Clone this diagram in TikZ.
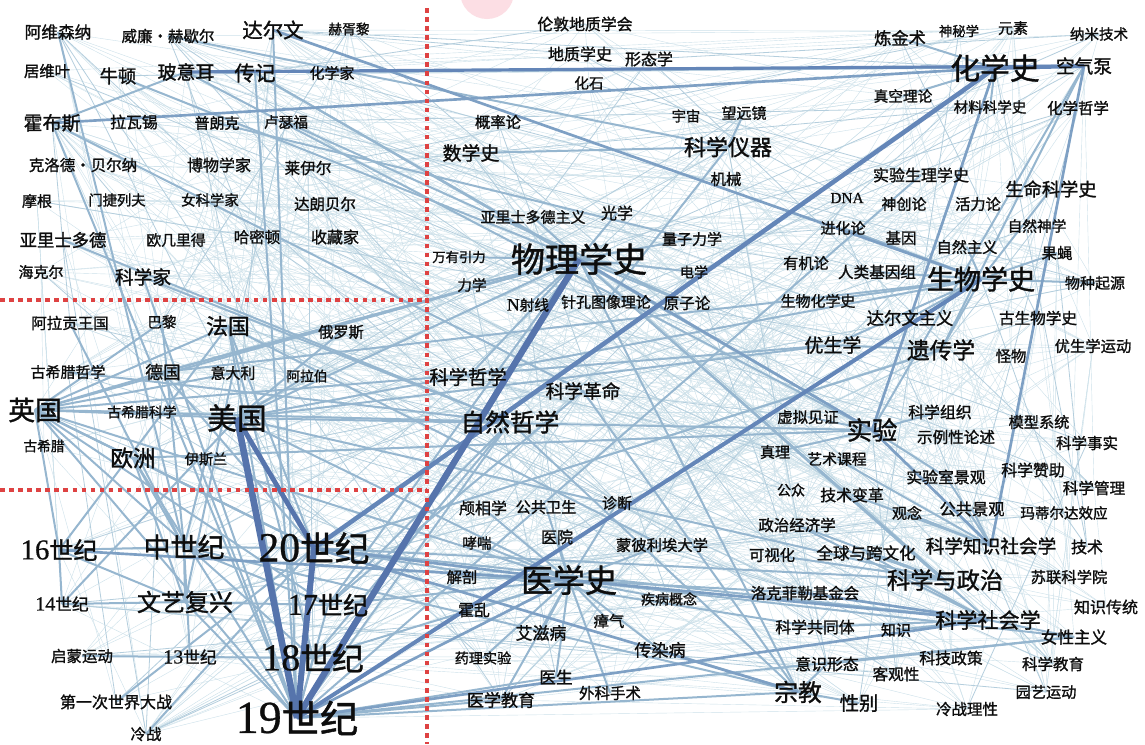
\documentclass[tikz,border=0pt]{standalone}
\usepackage{fontspec}
\newfontfamily\cjk{Noto Sans CJK SC}[FakeBold=1.3]
\newfontfamily\lat{Liberation Serif}[Scale=1.2,FakeBold=0.6]
\usetikzlibrary{backgrounds}
\definecolor{cfaint}{RGB}{205,225,234}
\definecolor{clight}{RGB}{180,206,221}
\definecolor{cmed}{RGB}{150,182,207}
\definecolor{cmw}{RGB}{126,160,196}
\definecolor{cthick}{RGB}{100,134,184}
\definecolor{cvthick}{RGB}{86,116,172}
\definecolor{cred}{RGB}{222,66,66}
\definecolor{cpink}{RGB}{252,222,228}
\newcounter{nd}
\newcommand\dg[1]{{\lat #1}}
\newcommand\Nd[5]{\stepcounter{nd}%
  \node[lbl,font=\cjk\fontsize{#4}{#4}\selectfont] (#1) at (#2,#3) {#5};%
  \edef\ndname{v\arabic{nd}}\coordinate (\ndname) at (#1.center);}
\begin{document}
\begin{tikzpicture}[x=0.75pt,y=-0.75pt,
 lbl/.style={inner sep=0pt,outer sep=0pt,text=black!95,anchor=center},
 faint/.style={draw=cfaint,line width=0.3pt},
 light/.style={draw=clight,line width=0.6pt},
 med/.style={draw=cmed,line width=1.5pt},
 medw/.style={draw=cmw,line width=2pt},
 thk/.style={draw=cthick,line width=3pt},
 vthk/.style={draw=cvthick,line width=4.5pt},
 reddot/.style={draw=cred,line width=2.4pt,dash pattern=on 3.4pt off 3.4pt}]
\useasboundingbox (0,0) rectangle (1145,744);
% ---- top left
\Nd{avicenna}{58}{32}{12.5}{阿维森纳}
\Nd{herschel}{168}{36}{11.6}{威廉・赫歇尔}
\Nd{darwin}{273}{30}{15.3}{达尔文}
\Nd{huxley}{349}{29}{10.3}{赫胥黎}
\Nd{cuvier}{47}{71}{11.5}{居维叶}
\Nd{newton}{118}{76}{13.7}{牛顿}
\Nd{boyle}{186}{72}{14.2}{玻意耳}
\Nd{bio}{255}{73}{15.4}{传记}
\Nd{chemist}{332}{73}{11.25}{化学家}
\Nd{hobbes}{52}{123}{14.2}{霍布斯}
\Nd{lavoisier}{134}{122}{11.9}{拉瓦锡}
\Nd{planck}{217}{123}{11.25}{普朗克}
\Nd{rutherford}{286}{122}{11}{卢瑟福}
\Nd{bernard}{83}{165}{11.6}{克洛德・贝尔纳}
\Nd{naturalist}{219}{165}{12}{博物学家}
\Nd{lyell}{308}{168}{11.7}{莱伊尔}
\Nd{morgan}{37}{201}{11.25}{摩根}
\Nd{mendeleev}{117}{200}{10.7}{门捷列夫}
\Nd{womensci}{210}{200}{10.8}{女科学家}
\Nd{dalembert}{325}{204}{11.6}{达朗贝尔}
\Nd{aristotle}{63}{240}{13}{亚里士多德}
\Nd{euclid}{176}{240}{11.1}{欧几里得}
\Nd{hamilton}{257}{237}{11.6}{哈密顿}
\Nd{collector}{335}{237}{12}{收藏家}
\Nd{haeckel}{41}{272}{11.25}{海克尔}
\Nd{scientist}{143}{277}{14}{科学家}
% ---- top middle
\Nd{geosoc}{585}{24}{11.9}{伦敦地质学会}
\Nd{geohist}{580}{54}{12}{地质学史}
\Nd{morph}{649}{59}{12}{形态学}
\Nd{fossil}{589}{83}{11}{化石}
\Nd{prob}{498}{122}{11.5}{概率论}
\Nd{cosmos}{686}{116}{10.7}{宇宙}
\Nd{telescope}{744}{113}{11.25}{望远镜}
\Nd{mathhist}{471}{153}{14.2}{数学史}
\Nd{instr}{728}{147}{16.5}{科学仪器}
\Nd{machine}{726}{179}{11.5}{机械}
\Nd{aristism}{533}{217}{11.25}{亚里士多德主义}
\Nd{optics}{617}{213}{12}{光学}
\Nd{quantum}{692}{239}{11.25}{量子力学}
\Nd{gravity}{459}{257}{10}{万有引力}
\Nd{physhist}{579}{259}{25.5}{物理学史}
\Nd{elec}{694}{272}{10.6}{电学}
\Nd{mech}{472}{285}{11}{力学}
\Nd{nray}{528}{305}{11}{\dg{N}射线}
\Nd{pinhole}{606}{302}{11.2}{针孔图像理论}
\Nd{atom}{687}{303}{11.7}{原子论}
\Nd{philsci}{468}{377}{14.5}{科学哲学}
\Nd{scirev}{583}{391}{14}{科学革命}
\Nd{natphil}{510}{422}{18.5}{自然哲学}
\Nd{truth}{775}{452}{11.25}{真理}
\Nd{virtual}{808}{417}{11.5}{虚拟见证}
% ---- top right
\Nd{alchemy}{900}{38}{12.9}{炼金术}
\Nd{occult}{959}{31}{10}{神秘学}
\Nd{element}{1013}{28}{11.25}{元素}
\Nd{nano}{1099}{34}{10.9}{纳米技术}
\Nd{chemhist}{995}{68}{22.3}{化学史}
\Nd{airpump}{1084}{66}{14}{空气泵}
\Nd{vacuum}{903}{96}{11}{真空理论}
\Nd{matsci}{990}{107}{10.9}{材料科学史}
\Nd{chemphil}{1078}{108}{11.6}{化学哲学}
\Nd{expphys}{921}{175}{12}{实验生理学史}
\Nd{dna}{847}{198}{9.6}{\dg{DNA}}
\Nd{creation}{904}{204}{11.25}{神创论}
\Nd{vital}{978}{204}{11.4}{活力论}
\Nd{lifesci}{1051}{189}{13.7}{生命科学史}
\Nd{evol}{843}{228}{11.25}{进化论}
\Nd{gene}{901}{238}{11.6}{基因}
\Nd{naturalism}{967}{247}{11.4}{自然主义}
\Nd{nattheo}{1037}{226}{11}{自然神学}
\Nd{fly}{1057}{253}{11.6}{果蝇}
\Nd{organic}{806}{263}{11.4}{有机论}
\Nd{genome}{877}{272}{11.7}{人类基因组}
\Nd{biohist}{981}{279}{20.3}{生物学史}
\Nd{origin}{1095}{283}{11.25}{物种起源}
\Nd{biochem}{818}{301}{11.2}{生物化学史}
\Nd{darwinism}{910}{318}{13}{达尔文主义}
\Nd{paleo}{1038}{318}{11.7}{古生物学史}
\Nd{eugenics}{833}{345}{14.2}{优生学}
\Nd{genetics}{941}{350}{17}{遗传学}
\Nd{monster}{1011}{356}{11.5}{怪物}
\Nd{eugmove}{1093}{346}{11.5}{优生学运动}
\Nd{sciorg}{940}{412}{11.9}{科学组织}
\Nd{model}{1039}{422}{11.4}{模型系统}
\Nd{exper}{872}{430}{19}{实验}
\Nd{exemplary}{956}{437}{11.7}{示例性论述}
\Nd{scifact}{1087}{443}{11.6}{科学事实}
\Nd{artcourse}{837}{459}{11.1}{艺术课程}
\Nd{lablandscape}{946}{477}{11.9}{实验室景观}
\Nd{patron}{1033}{470}{11.9}{科学赞助}
\Nd{scimgmt}{1094}{488}{11.7}{科学管理}
% ---- lower right
\Nd{public}{791}{490}{10.5}{公众}
\Nd{techchange}{852}{495}{11.9}{技术变革}
\Nd{idea}{907}{513}{11.25}{观念}
\Nd{publand}{972}{509}{12.2}{公共景观}
\Nd{matilda}{1064}{513}{10.9}{玛蒂尔达效应}
\Nd{polecon}{797}{525}{11.6}{政治经济学}
\Nd{ssk}{991}{546}{14}{科学知识社会学}
\Nd{tech}{1087}{547}{12}{技术}
\Nd{visual}{772}{555}{11.5}{可视化}
\Nd{global}{866}{553}{12.4}{全球与跨文化}
\Nd{scipol}{945}{580}{17.4}{科学与政治}
\Nd{ussr}{1069}{577}{11.5}{苏联科学院}
\Nd{rockefeller}{805}{593}{11.6}{洛克菲勒基金会}
\Nd{knowtrad}{1106}{607}{12}{知识传统}
\Nd{socsci}{988}{620}{15.8}{科学社会学}
\Nd{community}{815}{627}{11.9}{科学共同体}
\Nd{knowledge}{896}{630}{11.25}{知识}
\Nd{feminism}{1074}{637}{12.4}{女性主义}
\Nd{ideology}{827}{664}{11.9}{意识形态}
\Nd{stpolicy}{951}{658}{11.9}{科技政策}
\Nd{scied}{1053}{664}{11.6}{科学教育}
\Nd{objectivity}{896}{674}{11.7}{客观性}
\Nd{religion}{798}{692}{17.8}{宗教}
\Nd{gender}{859}{703}{14.5}{性别}
\Nd{garden}{1046}{692}{11.4}{园艺运动}
\Nd{cwrational}{967}{709}{11.6}{冷战理性}
% ---- medicine
\Nd{phren}{483}{508}{12}{颅相学}
\Nd{pubhealth}{546}{507}{11.4}{公共卫生}
\Nd{diag}{617}{503}{11.25}{诊断}
\Nd{asthma}{477}{543}{10.9}{哮喘}
\Nd{hospital}{557}{537}{12}{医院}
\Nd{montp}{662}{545}{11.5}{蒙彼利埃大学}
\Nd{anat}{462}{577}{11.5}{解剖}
\Nd{medhist}{569}{580}{24}{医学史}
\Nd{disease}{669}{599}{10.5}{疾病概念}
\Nd{cholera}{474}{610}{11.9}{霍乱}
\Nd{miasma}{609}{621}{11.5}{瘴气}
\Nd{aids}{541}{633}{12.7}{艾滋病}
\Nd{infect}{660}{650}{12.8}{传染病}
\Nd{pharm}{483}{658}{10.6}{药理实验}
\Nd{doctor}{556}{677}{12.5}{医生}
\Nd{surgery}{610}{693}{11.6}{外科手术}
\Nd{mededu}{501}{700}{12.8}{医学教育}
% ---- left middle
\Nd{aragon}{70}{323}{11.6}{阿拉贡王国}
\Nd{paris}{162}{322}{10.9}{巴黎}
\Nd{france}{228}{326}{16.3}{法国}
\Nd{russia}{341}{332}{11.4}{俄罗斯}
\Nd{grphil}{68}{372}{11.2}{古希腊哲学}
\Nd{germany}{163}{372}{13.3}{德国}
\Nd{italy}{233}{373}{11.2}{意大利}
\Nd{arab}{307}{376}{10.3}{阿拉伯}
\Nd{uk}{35}{410}{20}{英国}
\Nd{grsci}{142}{412}{10.4}{古希腊科学}
\Nd{usa}{237}{418}{22.3}{美国}
\Nd{greece}{44}{446}{10.3}{古希腊}
\Nd{europe}{133}{458}{16.9}{欧洲}
\Nd{islam}{206}{459}{10.6}{伊斯兰}
% ---- bottom left
\Nd{c16}{59}{550}{18}{\dg{16}世纪}
\Nd{medieval}{184}{547}{20.2}{中世纪}
\Nd{c20}{314}{548}{26}{\dg{20}世纪}
\Nd{c14}{62}{604}{12.5}{\dg{14}世纪}
\Nd{renaissance}{185}{602}{18}{文艺复兴}
\Nd{c17}{328}{605}{18.8}{\dg{17}世纪}
\Nd{enlight}{82}{656}{11.6}{启蒙运动}
\Nd{c13}{190}{657}{12.5}{\dg{13}世纪}
\Nd{c18}{313}{658}{23.8}{\dg{18}世纪}
\Nd{ww1}{116}{702}{12}{第一次世界大战}
\Nd{coldwar}{146}{734}{11.6}{冷战}
\Nd{c19}{297}{718}{28.7}{\dg{19}世纪}
\edef\NN{\arabic{nd}}
% ---- connectors
\begin{scope}[on background layer]
\fill[white] (0,0) rectangle (1145,744);
\fill[cpink] (487,-8) circle (27);
\pgfmathsetseed{4242}
\foreach \k in {1,...,750}{%
  \pgfmathrandominteger{\ra}{1}{\NN}\pgfmathrandominteger{\rb}{1}{\NN}%
  \draw[faint] (v\ra) -- (v\rb);}
\foreach \k in {1,...,110}{%
  \pgfmathrandominteger{\ra}{1}{\NN}\pgfmathrandominteger{\rb}{1}{\NN}%
  \draw[light] (v\ra) -- (v\rb);}
\foreach \a/\b in {avicenna/medieval, hobbes/boyle, hobbes/c19, hobbes/scirev, boyle/exper,
  bio/c19, darwin/c19, herschel/instr, newton/physhist, rutherford/atom, planck/quantum,
  bio/physhist, bio/exper, mathhist/instr, instr/pinhole, instr/telescope, alchemy/chemhist,
  airpump/genetics, chemhist/matsci, chemhist/vacuum, germany/biohist, biochem/biohist,
  evol/biohist, eugenics/biohist, genetics/biohist, darwinism/biohist, eugenics/genetics,
  c20/genetics, c19/expphys, c19/religion, c19/mededu, c19/doctor, c19/feminism,
  c19/europe, c19/natphil, c20/community, c20/socsci, c20/scipol, medieval/religion,
  c20/france, c20/uk, c20/germany, c20/medieval, medhist/phren, medhist/pubhealth,
  medhist/diag, medhist/asthma, medhist/hospital, medhist/montp, medhist/anat,
  medhist/disease, medhist/cholera, medhist/miasma, medhist/aids, medhist/infect,
  medhist/pharm, medhist/doctor, medhist/surgery, medhist/mededu, medhist/feminism,
  medhist/rockefeller, medhist/uk, medhist/usa, physhist/aristism, physhist/optics,
  physhist/quantum, physhist/gravity, physhist/elec, physhist/mech, physhist/nray,
  physhist/pinhole, physhist/atom, physhist/scipol, physhist/socsci, physhist/religion,
  physhist/philsci, physhist/c17, physhist/uk, physhist/germany, physhist/usa,
  biohist/fly, biohist/origin, biohist/naturalism, biohist/genome, biohist/lifesci,
  biohist/usa, exper/virtual, exper/europe, exper/truth, exper/sciorg,
  exper/lablandscape, exper/airpump, exper/usa, ssk/techchange, ssk/artcourse, ssk/publand,
  ssk/lablandscape, ssk/idea, socsci/knowledge, socsci/feminism, socsci/community,
  socsci/global, socsci/polecon, scipol/global, scipol/visual, scipol/usa, scipol/polecon,
  religion/infect, religion/natphil, religion/ideology, religion/gender, religion/scirev,
  natphil/uk, natphil/aristotle, natphil/grphil, natphil/c17, natphil/c18, uk/france,
  uk/paris, uk/germany, uk/italy, uk/usa, uk/c16, uk/c17, uk/c18, uk/c20, uk/grsci,
  uk/europe, uk/eugenics, usa/russia, usa/eugenics, usa/arab, france/c16, france/c18,
  france/c19, france/montp, germany/c19, europe/medieval, europe/renaissance, europe/c20,
  medieval/islam, medieval/c16, medieval/c13, medieval/renaissance, medieval/c17,
  c16/renaissance, c14/renaissance, c14/usa, renaissance/c17, renaissance/c19, c17/c19,
  c18/c19, c18/medhist, c17/medhist, c17/scirev, c18/enlight, c16/c14, ww1/c20,
  coldwar/c20, feminism/ideology, paris/medieval, italy/renaissance, aragon/medieval,
  scientist/c19, scientist/natphil, germany/physhist, c19/uk}
  {\draw[med] (\a.center) -- (\b.center);}
\foreach \a/\b in {c20/religion, hobbes/chemhist, darwin/biohist, chemhist/exper,
  airpump/ssk, medhist/socsci, c20/medhist, c16/medhist, physhist/exper, c19/socsci,
  rockefeller/socsci, exper/ssk, c19/medhist}
  {\draw[medw] (\a.center) -- (\b.center);}
\draw[thk,line width=3.4pt] (chemhist.center) -- (c20.center);
\draw[thk] (c19.center) -- (biohist.center);
\draw[thk,line width=2.4pt] (boyle.center) -- (airpump.center);
\draw[thk] (chemhist.center) -- (airpump.center);
\draw[vthk,line width=3.6pt] (usa.center) -- (c20.center);
\draw[vthk] (c20.center) -- (c19.center);
\draw[vthk,line width=5pt] (usa.center) -- (c19.center);
\draw[vthk,line width=4.8pt] (c19.center) -- (physhist.center);
\end{scope}
% ---- red dotted dividers
\draw[reddot] (427,8) -- (427,744);
\draw[reddot] (0,300) -- (427,300);
\draw[reddot] (0,490) -- (427,490);
\end{tikzpicture}
\end{document}
